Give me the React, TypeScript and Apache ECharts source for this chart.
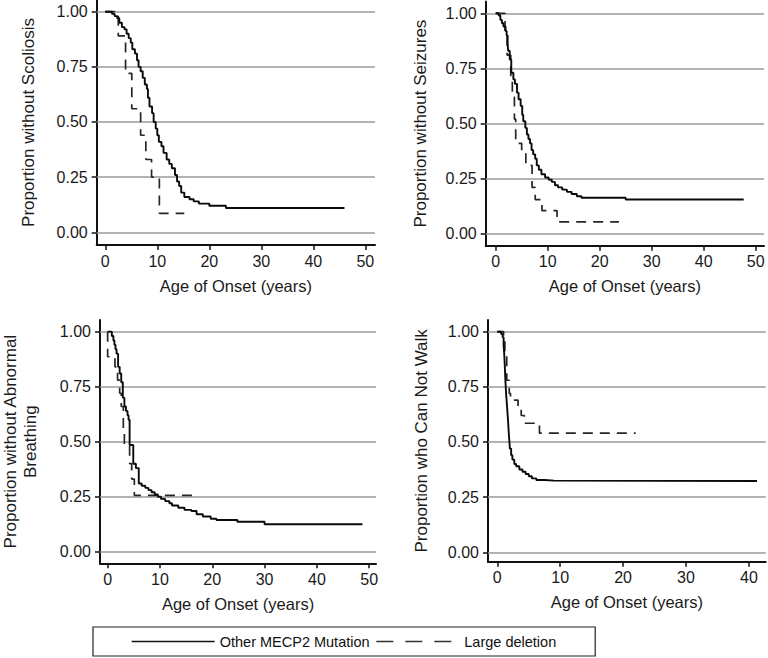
import React, { useEffect, useRef } from "react";
import * as echarts from "echarts";

const FONT = '"Liberation Sans", Arial, Helvetica, sans-serif';

// ---- tick labels / texts ----
const yTicks = [0, 0.25, 0.5, 0.75, 1];
const xTicks50 = [0, 10, 20, 30, 40, 50];
const xTicks40 = [0, 10, 20, 30, 40];
const legendNames = ["Other MECP2 Mutation", "Large deletion"];
const xTitle = "Age of Onset (years)";
const yTitles = [
  "Proportion without Scoliosis",
  "Proportion without Seizures",
  "Proportion without Abnormal\nBreathing",
  "Proportion who Can Not Walk",
];

// ---- Kaplan-Meier curves: [age, proportion] ----
const scoliosisOther: [number, number][] = [
  [0, 1], [1.3, 0.99], [1.8, 0.98], [2.3, 0.97], [2.7, 0.95], [3.2, 0.93], [3.7, 0.92],
  [4.1, 0.9], [4.5, 0.88], [4.9, 0.86], [5.2, 0.83], [5.7, 0.81], [6.1, 0.78], [6.4, 0.75],
  [6.8, 0.73], [7.2, 0.7], [7.6, 0.67], [8.0, 0.65], [8.2, 0.61], [8.5, 0.57], [9.0, 0.54],
  [9.3, 0.5], [9.7, 0.47], [10.0, 0.44], [10.3, 0.41], [10.8, 0.39], [11.2, 0.36], [11.8, 0.33],
  [12.3, 0.31], [12.8, 0.29], [13.4, 0.26], [13.8, 0.23], [14.2, 0.21], [14.6, 0.18], [15.2, 0.16],
  [16.2, 0.15], [17.0, 0.14], [18.0, 0.13], [20.0, 0.12], [23.2, 0.11], [46.0, 0.11],
];
const scoliosisDeletion: [number, number][] = [
  [0, 1], [2.5, 0.89], [3.9, 0.72], [5.1, 0.56], [6.8, 0.44], [7.8, 0.33], [8.9, 0.25],
  [10.4, 0.086], [15.2, 0.086],
];
const seizuresOther: [number, number][] = [
  [0, 1], [0.6, 0.99], [0.9, 0.97], [1.2, 0.955], [1.5, 0.94], [1.9, 0.92], [2.1, 0.9],
  [2.3, 0.86], [2.4, 0.83], [2.7, 0.79], [3.0, 0.73], [3.4, 0.7], [3.7, 0.68], [4.1, 0.64],
  [4.4, 0.61], [4.8, 0.58], [5.1, 0.54], [5.3, 0.51], [5.7, 0.48], [6.0, 0.45], [6.3, 0.43],
  [6.6, 0.41], [6.9, 0.38], [7.2, 0.36], [7.6, 0.34], [7.9, 0.31], [8.3, 0.29], [8.8, 0.27],
  [9.5, 0.255], [10.2, 0.245], [10.8, 0.235], [11.4, 0.22], [12.0, 0.21], [12.8, 0.2],
  [13.7, 0.19], [14.6, 0.18], [15.6, 0.17], [16.5, 0.163], [25.0, 0.155], [47.7, 0.155],
];
const seizuresDeletion: [number, number][] = [
  [0, 1], [1.8, 0.9], [2.2, 0.81], [2.9, 0.71], [3.2, 0.62], [3.6, 0.52], [3.85, 0.41],
  [5.0, 0.375], [5.8, 0.31], [7.0, 0.21], [7.6, 0.155], [8.9, 0.105], [11.8, 0.054], [23.7, 0.054],
];
const breathingOther: [number, number][] = [
  [0, 1], [0.8, 0.98], [1.1, 0.96], [1.3, 0.94], [1.5, 0.92], [1.7, 0.9], [2.0, 0.84],
  [2.3, 0.81], [2.6, 0.77], [2.9, 0.7], [3.2, 0.66], [3.5, 0.64], [3.8, 0.62], [4.0, 0.6],
  [4.2, 0.485], [4.9, 0.4], [5.4, 0.38], [5.95, 0.31], [6.5, 0.3], [7.2, 0.29], [7.8, 0.28],
  [8.4, 0.27], [9.0, 0.26], [9.6, 0.25], [10.2, 0.24], [11.0, 0.23], [11.8, 0.22], [12.3, 0.21],
  [13.5, 0.2], [14.7, 0.19], [16.0, 0.185], [17.0, 0.17], [18.2, 0.16], [19.7, 0.15],
  [20.8, 0.144], [24.8, 0.136], [30.0, 0.125], [48.7, 0.125],
];
const breathingDeletion: [number, number][] = [
  [0, 1], [0, 0.886], [1.4, 0.84], [1.9, 0.78], [2.3, 0.72], [2.6, 0.66], [3.0, 0.56],
  [3.2, 0.48], [4.2, 0.4], [4.6, 0.33], [5.1, 0.256], [16.9, 0.256],
];
const walkOther: [number, number][] = [
  [0, 1], [0.6, 0.99], [0.85, 0.975], [1.0, 0.94], [1.1, 0.9], [1.2, 0.84], [1.3, 0.77],
  [1.4, 0.72], [1.5, 0.68], [1.6, 0.64], [1.7, 0.6], [1.8, 0.55], [1.9, 0.51], [2.0, 0.47],
  [2.2, 0.44], [2.4, 0.42], [2.7, 0.4], [3.0, 0.39], [3.5, 0.375], [4.0, 0.365], [4.5, 0.355],
  [5.0, 0.345], [5.5, 0.335], [6.2, 0.328], [7.5, 0.325], [9.0, 0.323], [41.3, 0.323],
];
const walkDeletion: [number, number][] = [
  [0, 1], [1.0, 0.96], [1.2, 0.89], [1.5, 0.78], [1.9, 0.72], [2.1, 0.69], [3.3, 0.66],
  [3.8, 0.62], [4.3, 0.585], [6.7, 0.54], [22.0, 0.54],
];

const curves = [
  [scoliosisOther, scoliosisDeletion],
  [seizuresOther, seizuresDeletion],
  [breathingOther, breathingDeletion],
  [walkOther, walkDeletion],
];

// ---- layout (pixels / axis extents) ----
const layout = [
  { left: 96.7, top: 0, width: 278.3, height: 245, xMin: -1.65, xMax: 51.87, yMin: -0.0576, yMax: 1.053, xTicks: xTicks50, nameGap: 58 },
  { left: 485.7, top: 1.5, width: 278.3, height: 244.2, xMin: -1.92, xMax: 51.6, yMin: -0.0544, yMax: 1.0535, xTicks: xTicks50, nameGap: 55 },
  { left: 98.3, top: 320, width: 277.7, height: 243.3, xMin: -1.46, xMax: 51.3, yMin: -0.0527, yMax: 1.053, xTicks: xTicks50, nameGap: 60 },
  { left: 488, top: 320, width: 277.7, height: 241.7, xMin: -1.48, xMax: 42.67, yMin: -0.0426, yMax: 1.053, xTicks: xTicks40, nameGap: 57 },
];

const AXIS_COLOR = "#111";
const TEXT_COLOR = "#1a1a1a";

export default function App() {
  const ref = useRef<HTMLDivElement>(null);

  useEffect(() => {
    if (!ref.current) return;
    const chart = echarts.init(ref.current, undefined, { renderer: "svg" });

    const grid = layout.map((l) => ({ left: l.left, top: l.top, width: l.width, height: l.height, containLabel: false }));

    const xAxis = layout.map((l, i) => ({
      type: "value",
      gridIndex: i,
      min: l.xMin,
      max: l.xMax,
      axisLine: { show: true, onZero: false, lineStyle: { color: AXIS_COLOR, width: 2 } },
      axisTick: { show: true, customValues: l.xTicks, length: 5, lineStyle: { color: AXIS_COLOR, width: 1.5 } },
      axisLabel: {
        show: true,
        customValues: l.xTicks,
        margin: 8,
        fontFamily: FONT,
        fontSize: 16,
        color: TEXT_COLOR,
        formatter: (v: number) => String(Math.round(v)),
      },
      splitLine: { show: false },
      name: xTitle,
      nameLocation: "middle",
      nameGap: 32,
      nameTextStyle: { fontFamily: FONT, fontSize: 16.5, color: TEXT_COLOR },
    }));

    const yAxis = layout.map((l, i) => ({
      type: "value",
      gridIndex: i,
      min: l.yMin,
      max: l.yMax,
      axisLine: { show: true, onZero: false, lineStyle: { color: AXIS_COLOR, width: 2 } },
      axisTick: { show: true, customValues: yTicks, length: 5, lineStyle: { color: AXIS_COLOR, width: 1.5 } },
      axisLabel: {
        show: true,
        customValues: yTicks,
        margin: 9,
        fontFamily: FONT,
        fontSize: 16,
        color: TEXT_COLOR,
        formatter: (v: number) => v.toFixed(2),
      },
      splitLine: { show: false },
      name: yTitles[i],
      nameLocation: "middle",
      nameGap: l.nameGap,
      nameTextStyle: { fontFamily: FONT, fontSize: 17, color: TEXT_COLOR, lineHeight: 19.5, align: "center" },
    }));

    const series: any[] = [];
    curves.forEach((pair, i) => {
      series.push({
        name: legendNames[0],
        type: "line",
        xAxisIndex: i,
        yAxisIndex: i,
        step: "end",
        symbol: "none",
        data: pair[0],
        lineStyle: { color: "#0a0a0a", width: 1.9, type: "solid" },
        itemStyle: { color: "#0a0a0a" },
        z: 3,
        markLine: {
          silent: true,
          symbol: ["none", "none"],
          label: { show: false },
          z: 1,
          animation: false,
          lineStyle: { color: "#9a9a9a", width: 1.6, type: "solid" },
          emphasis: { disabled: true },
          data: yTicks.map((v) => ({ yAxis: v })),
        },
      });
      series.push({
        name: legendNames[1],
        type: "line",
        xAxisIndex: i,
        yAxisIndex: i,
        step: "end",
        symbol: "none",
        data: pair[1],
        lineStyle: { color: "#262626", width: 1.7, type: [10, 7] },
        itemStyle: { color: "#262626" },
        z: 2,
      });
    });

    chart.setOption({
      animation: false,
      backgroundColor: "#ffffff",
      grid,
      xAxis,
      yAxis,
      legend: {
        left: 93,
        top: 627,
        orient: "horizontal",
        itemWidth: 83,
        itemHeight: 14,
        itemGap: 6,
        padding: [7, 39, 7, 38],
        borderColor: "#222",
        borderWidth: 1.2,
        selectedMode: false,
        textStyle: { fontFamily: FONT, fontSize: 14.5, color: "#111" },
        data: [
          { name: legendNames[0], lineStyle: { type: "solid", width: 1.4, color: "#111" }, itemStyle: { opacity: 0 } },
          { name: legendNames[1], lineStyle: { type: [17, 12], width: 1.4, color: "#333" }, itemStyle: { opacity: 0 } },
        ],
      },
      series,
    });

    return () => chart.dispose();
  }, []);

  return (
    <div
      ref={ref}
      style={{ position: "fixed", left: 0, top: 0, width: 768, height: 658, background: "#fff" }}
    />
  );
}
